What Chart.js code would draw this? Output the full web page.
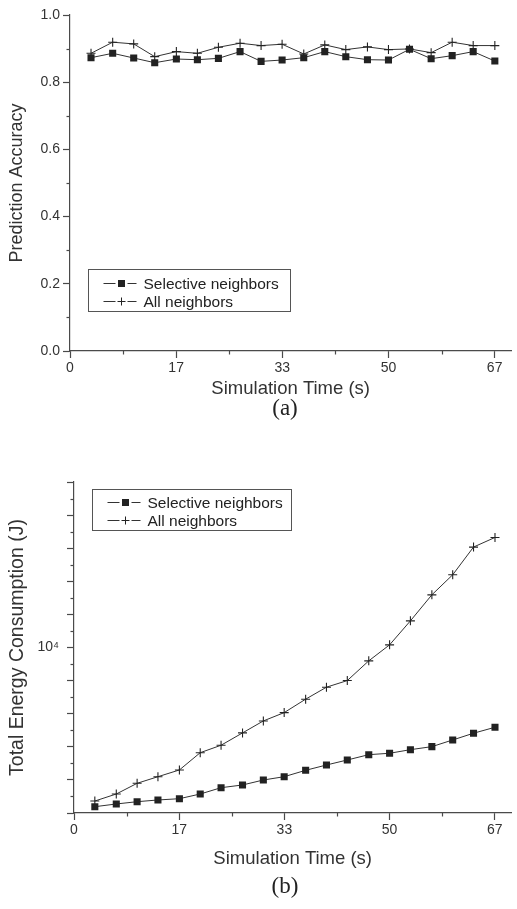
<!DOCTYPE html>
<html>
<head>
<meta charset="utf-8">
<script src="https://cdn.jsdelivr.net/npm/chart.js@4.4.1/dist/chart.umd.min.js"></script>
<style>
  html, body { margin: 0; padding: 0; background: #fff; }
  body { width: 517px; height: 909px; position: relative; overflow: hidden; }
  .wrap { position: absolute; left: 0; }
  .cap { position: absolute; width: 80px; text-align: center; font-family: "Liberation Serif", "DejaVu Serif", serif; font-size: 23px; line-height: 23px; color: #222; }
</style>
</head>
<body>
<div class="wrap" style="top:0px;"><canvas id="c1" width="517" height="400"></canvas></div>
<div class="cap" style="left:245px; top:396px;">(a)</div>
<div class="wrap" style="top:460px;"><canvas id="c2" width="517" height="420"></canvas></div>
<div class="cap" style="left:245px; top:874px;">(b)</div>
<script>
// ---------------- data ----------------
const simTime = [3.3, 6.7, 10, 13.3, 16.7, 20, 23.3, 26.7, 30, 33.3, 36.7, 40, 43.3, 46.7, 50, 53.3, 56.7, 60, 63.3, 66.7];
const seriesNames = ['Selective neighbors', 'All neighbors'];

const accSelective = [0.873, 0.886, 0.872, 0.858, 0.869, 0.867, 0.871, 0.891, 0.862, 0.866, 0.873, 0.891, 0.876, 0.867, 0.866, 0.898, 0.870, 0.879, 0.891, 0.863];
const accAll       = [0.886, 0.919, 0.914, 0.876, 0.891, 0.886, 0.904, 0.916, 0.909, 0.913, 0.884, 0.911, 0.897, 0.905, 0.897, 0.899, 0.888, 0.919, 0.909, 0.909];

const energySelective = [3304, 3367, 3421, 3462, 3493, 3609, 3771, 3843, 3978, 4071, 4256, 4416, 4573, 4745, 4791, 4913, 5017, 5256, 5508, 5742];
const energyAll       = [3437, 3609, 3888, 4071, 4266, 4811, 5066, 5520, 6000, 6357, 6980, 7587, 7945, 9113, 10186, 12036, 14424, 16584, 20109, 21503];

const xMajorTicks = [0, 16.667, 33.333, 50, 66.667];
const xTickLabels = ['0', '17', '33', '50', '67'];
const xMinorTicks = [8.333, 25, 41.667, 58.333];

const accMajorTicks = [0, 0.2, 0.4, 0.6, 0.8, 1.0];
const accTickLabels = ['0.0', '0.2', '0.4', '0.6', '0.8', '1.0'];
const accMinorTicks = [0.1, 0.3, 0.5, 0.7, 0.9];

const energyMajorExp = [3.5, 3.6, 3.7, 3.8, 3.9, 4.0, 4.1, 4.2, 4.3, 4.4, 4.5];
const energyMinorExp = [3.55, 3.65, 3.75, 3.85, 3.95, 4.05, 4.15, 4.25, 4.35, 4.45];
const energyLabelExp = 4;
const energyLabelText = '10\u2074';

// ---------------- styling ----------------
const FONT = '"Liberation Sans", Arial, Helvetica, sans-serif';
const AXIS = '#4a4a4a';
const INK = '#222';

// minor tick drawing through the library scales
const minorTickPlugin = {
  id: 'minorTicks',
  afterDraw(chart, args, opts) {
    const ctx = chart.ctx;
    ctx.save();
    ctx.strokeStyle = AXIS;
    ctx.lineWidth = 1.2;
    const xs = chart.scales.x, ys = chart.scales.y;
    (opts.x || []).forEach(v => {
      const px = Math.round(xs.getPixelForValue(v)) + 0.5;
      ctx.beginPath(); ctx.moveTo(px, xs.top); ctx.lineTo(px, xs.top + opts.len); ctx.stroke();
    });
    (opts.y || []).forEach(v => {
      const py = Math.round(ys.getPixelForValue(v)) + 0.5;
      ctx.beginPath(); ctx.moveTo(ys.right, py); ctx.lineTo(ys.right - opts.len, py); ctx.stroke();
    });
    ctx.restore();
  }
};

// legend box inside the plot area
const boxLegendPlugin = {
  id: 'boxLegend',
  afterDatasetsDraw(chart, args, opts) {
    const {ctx, chartArea} = chart;
    const x0 = Math.round(chartArea.left + opts.dx) + 0.5;
    const y0 = Math.round(chartArea.top + opts.dy) + 0.5;
    ctx.save();
    ctx.font = opts.fontSize + 'px ' + FONT;
    const ds = chart.data.datasets;
    const tw = Math.max(...ds.map(d => ctx.measureText(d.label).width));
    const w = Math.round(opts.textX + tw + opts.padR);
    ctx.fillStyle = '#fff';
    ctx.fillRect(x0, y0, w, opts.h);
    ctx.strokeStyle = '#555';
    ctx.lineWidth = 1;
    ctx.strokeRect(x0, y0, w, opts.h);
    ds.forEach((d, i) => {
      const cy = Math.round(y0 + opts.rows[i]) + 0.5;
      const mx = x0 + opts.markX;
      ctx.strokeStyle = '#333';
      ctx.lineWidth = 1;
      ctx.beginPath();
      ctx.moveTo(x0 + opts.lineL, cy); ctx.lineTo(mx - 6, cy);
      ctx.moveTo(mx + 6, cy); ctx.lineTo(x0 + opts.lineR, cy);
      ctx.stroke();
      if (d.pointStyle === 'rect') {
        ctx.fillStyle = INK;
        ctx.fillRect(mx - 3.5, cy - 3.5, 7, 7);
      } else {
        ctx.strokeStyle = INK;
        ctx.beginPath();
        ctx.moveTo(mx - 4, cy); ctx.lineTo(mx + 4, cy);
        ctx.moveTo(mx, cy - 4); ctx.lineTo(mx, cy + 4);
        ctx.stroke();
      }
      ctx.fillStyle = INK;
      ctx.textBaseline = 'middle';
      ctx.textAlign = 'left';
      ctx.fillText(d.label, x0 + opts.textX, cy + 1);
    });
    ctx.restore();
  }
};

function datasets(selVals, allVals) {
  return [
    { label: seriesNames[0], data: simTime.map((t, i) => ({x: t, y: selVals[i]})),
      borderColor: '#333', borderWidth: 1, pointStyle: 'rect', pointRadius: 5,
      pointBackgroundColor: INK, pointBorderColor: INK, pointBorderWidth: 0, tension: 0, order: 1 },
    { label: seriesNames[1], data: simTime.map((t, i) => ({x: t, y: allVals[i]})),
      borderColor: '#333', borderWidth: 1, pointStyle: 'cross', pointRadius: 4.5,
      pointBorderColor: INK, pointBorderWidth: 1.1, tension: 0, order: 2 }
  ];
}

function xScale(height, titlePadBottom) {
  return {
    type: 'linear', min: 0, max: 69.3,
    afterBuildTicks: s => { s.ticks = xMajorTicks.map(v => ({value: v})); },
    afterFit: s => { s.height = height; },
    ticks: { autoSkip: false, maxRotation: 0, padding: 2, color: '#333',
      font: {family: FONT, size: 14}, callback: (v, i) => xTickLabels[i] },
    grid: { display: true, drawOnChartArea: false, drawTicks: true, tickLength: 7, tickColor: AXIS, tickWidth: 1.2 },
    border: { display: true, color: AXIS, width: 1.2 },
    title: { display: true, text: 'Simulation Time (s)', color: '#333',
      font: {family: FONT, size: 18.5}, padding: {top: 0, bottom: titlePadBottom} }
  };
}

Chart.defaults.animation = false;

new Chart(document.getElementById('c1'), {
  type: 'line',
  data: { datasets: datasets(accSelective, accAll) },
  options: {
    responsive: false, animation: false, devicePixelRatio: 1,
    layout: { padding: {top: 15, right: 1, left: 0, bottom: 0} },
    plugins: {
      legend: {display: false}, tooltip: {enabled: false},
      minorTicks: { x: xMinorTicks, y: accMinorTicks, len: 3.5 },
      boxLegend: { dx: 18, dy: 254, h: 42, rows: [13.5, 31], fontSize: 15.5, textX: 55, padR: 12, lineL: 15, lineR: 48, markX: 33 }
    },
    scales: {
      x: xScale(49, 0),
      y: {
        type: 'linear', min: 0, max: 1,
        afterBuildTicks: s => { s.ticks = accMajorTicks.map(v => ({value: v})); },
        afterFit: s => { s.width = 70; },
        ticks: { autoSkip: false, padding: 3, color: '#333', font: {family: FONT, size: 14},
          callback: (v, i) => accTickLabels[i] },
        grid: { display: true, drawOnChartArea: false, drawTicks: true, tickLength: 7, tickColor: AXIS, tickWidth: 1.2 },
        border: { display: true, color: AXIS, width: 1.2 },
        title: { display: true, text: 'Prediction Accuracy', color: '#333',
          font: {family: FONT, size: 18}, padding: {top: 6, bottom: 0} }
      }
    }
  },
  plugins: [minorTickPlugin, boxLegendPlugin]
});

new Chart(document.getElementById('c2'), {
  type: 'line',
  data: { datasets: datasets(energySelective, energyAll) },
  options: {
    responsive: false, animation: false, devicePixelRatio: 1,
    layout: { padding: {top: 22, right: 1, left: 0, bottom: 0} },
    plugins: {
      legend: {display: false}, tooltip: {enabled: false},
      minorTicks: { x: xMinorTicks, y: energyMinorExp.map(e => Math.pow(10, e)), len: 3.5 },
      boxLegend: { dx: 18, dy: 7, h: 41, rows: [12, 30], fontSize: 15.5, textX: 55, padR: 9, lineL: 15, lineR: 48, markX: 33 }
    },
    scales: {
      x: xScale(67, 10),
      y: {
        type: 'logarithmic', min: Math.pow(10, 3.5), max: Math.pow(10, 4.5),
        afterBuildTicks: s => { s.ticks = energyMajorExp.map(e => ({value: Math.pow(10, e)})); },
        afterFit: s => { s.width = 74; },
        ticks: { autoSkip: false, padding: 8, color: '#333', font: {family: FONT, size: 14},
          callback: v => Math.abs(Math.log10(v) - energyLabelExp) < 1e-6 ? energyLabelText : '' },
        grid: { display: true, drawOnChartArea: false, drawTicks: true, tickLength: 7, tickColor: AXIS, tickWidth: 1.2 },
        border: { display: true, color: AXIS, width: 1.2 },
        title: { display: true, text: 'Total Energy Consumption (J)', color: '#333',
          font: {family: FONT, size: 19.5}, padding: {top: 6, bottom: 0} }
      }
    }
  },
  plugins: [minorTickPlugin, boxLegendPlugin]
});
</script>
</body>
</html>
